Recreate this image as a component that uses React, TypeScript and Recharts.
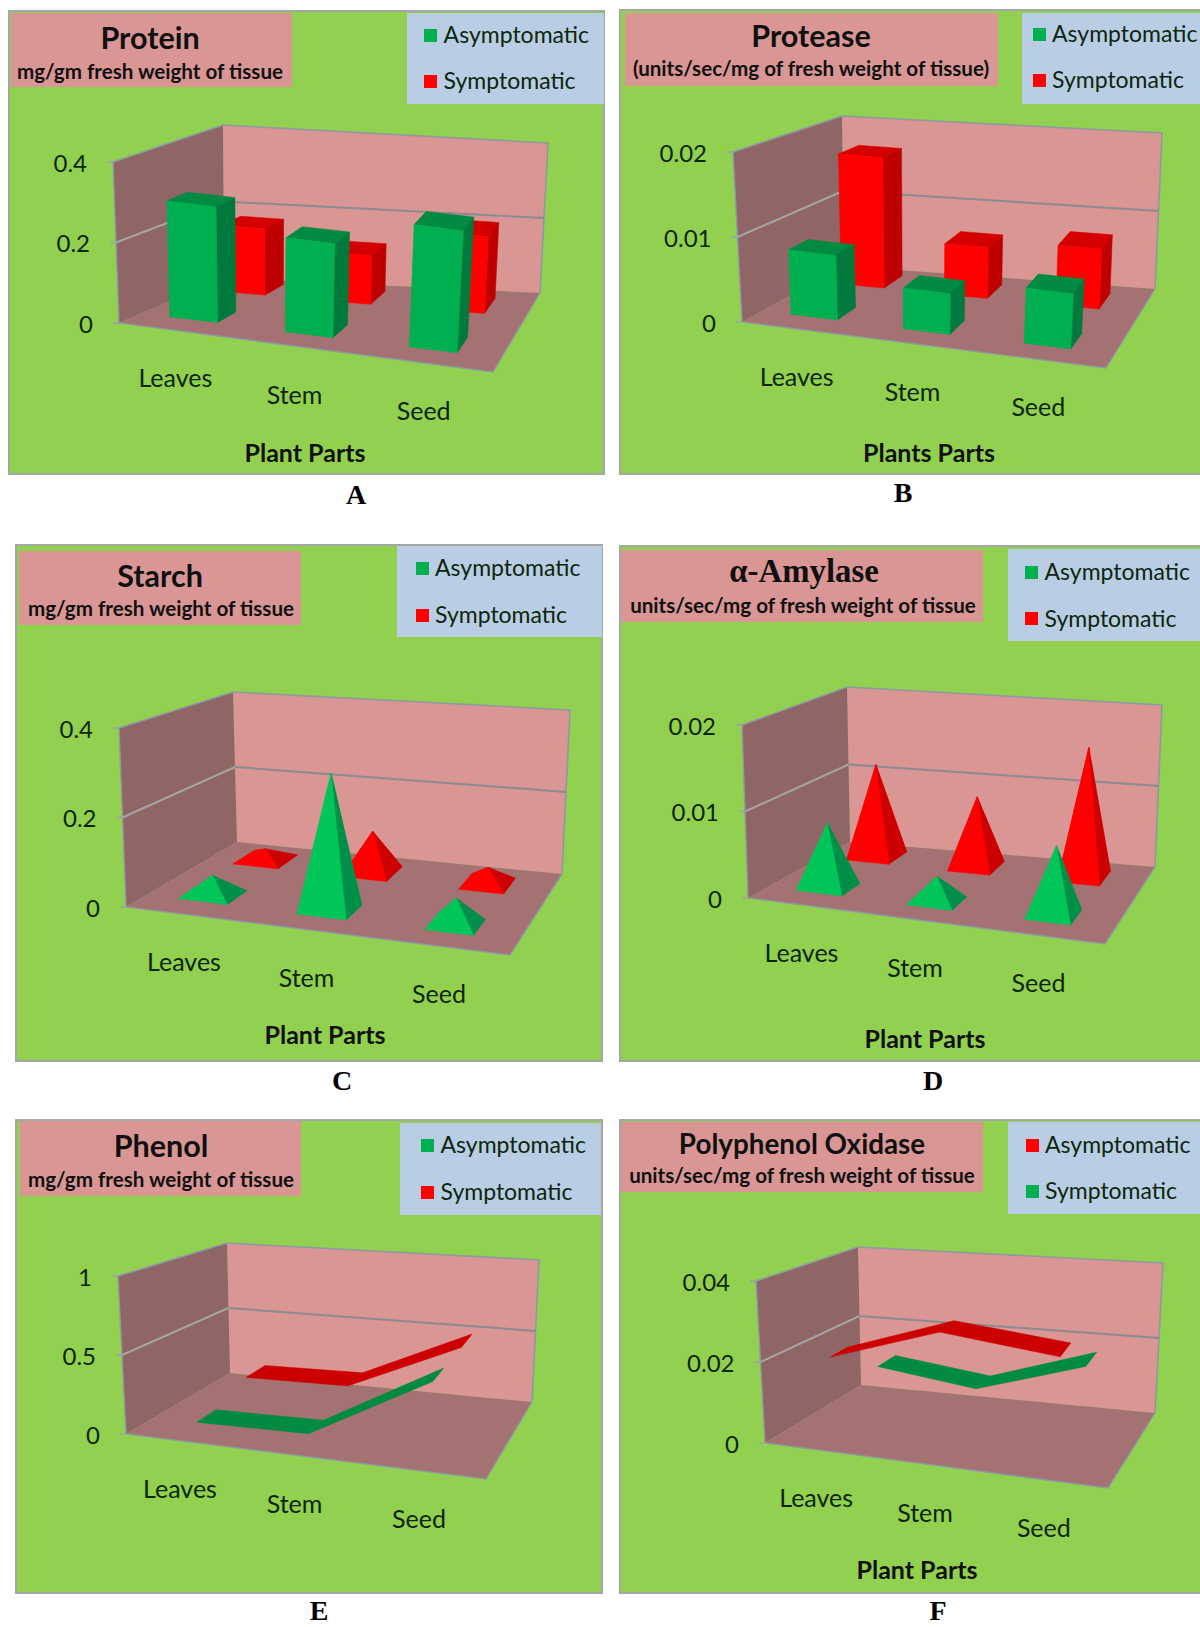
import React from 'react';
import { ComposedChart, Bar, Line, XAxis, YAxis } from 'recharts';

// Shared categories and legend names
const categories = ['Leaves', 'Stem', 'Seed'];
const asymptomaticName = 'Asymptomatic';
const symptomaticName = 'Symptomatic';

// Measured values per panel
const proteinAsymptomatic = [0.29, 0.237, 0.31];
const proteinSymptomatic = [0.17, 0.125, 0.2];
const proteaseAsymptomatic = [0.0077, 0.0049, 0.0067];
const proteaseSymptomatic = [0.0165, 0.0064, 0.0075];
const starchAsymptomatic = [0.045, 0.318, 0.062];
const starchSymptomatic = [0.027, 0.1, 0.04];
const amylaseAsymptomatic = [0.0076, 0.0029, 0.0082];
const amylaseSymptomatic = [0.0114, 0.0086, 0.0158];
const phenolAsymptomatic = [0.08, 0.1, 0.545];
const phenolSymptomatic = [0.17, 0.19, 0.535];
const oxidaseAsymptomatic = [0.022, 0.0327, 0.0307];
const oxidaseSymptomatic = [0.0124, 0.0094, 0.0184];

// Axis ticks per panel
const proteinTicks = [0, 0.2, 0.4];
const proteaseTicks = [0, 0.01, 0.02];
const starchTicks = [0, 0.2, 0.4];
const amylaseTicks = [0, 0.01, 0.02];
const phenolTicks = [0, 0.5, 1];
const oxidaseTicks = [0, 0.02, 0.04];

type P = [number, number];
type Cube = { ftl: P; ftr: P; fbl: P; fbr: P; btl: P; btr: P; bbl: P; bbr: P };

const GREEN = { face: '#00B050', top: '#008A42', side: '#007A3C', ribbon: '#008A42', coneFace: '#00C65A', coneSide: '#008F48', coneBack: '#00A550' };
const RED = { face: '#FF0000', top: '#D40000', side: '#BE0000', ribbon: '#CC0000', coneFace: '#FF0000', coneSide: '#CC0000', coneBack: '#E60000' };
const SANS = 'Lato, sans-serif';
const SERIF = '"Liberation Serif", serif';
const INK = '#0C260C';

const AXIS_W = 60;
const AXIS_H = 40;
const SLOT_FRONT: P = [0.11, 0.31];
const SLOT_BACK: P = [0.63, 0.83];

// Horizontal perspective correction per category column, and category label offsets
const columnShift = [1.5, -5.5, -4];
const ribbonShift = [1, -6, -3];
const labelShift = [-6, -11.5, -7];

const lerp = (a: P, b: P, t: number): P => [a[0] + (b[0] - a[0]) * t, a[1] + (b[1] - a[1]) * t];

// Maps normalised category / value / depth coordinates into the drawn box
const project = (c: Cube, u: number, v: number, w: number): P => {
  const fb = lerp(c.fbl, c.fbr, u);
  const ft = lerp(c.ftl, c.ftr, u);
  const bb = lerp(c.bbl, c.bbr, u);
  const bt = lerp(c.btl, c.btr, u);
  return lerp(lerp(fb, ft, v), lerp(bb, bt, v), w);
};

const pts = (list: P[]) => list.map((p) => `${p[0].toFixed(1)},${p[1].toFixed(1)}`).join(' ');
const Face = ({ at, fill }: { at: P[]; fill: string }) => (
  <polygon points={pts(at)} fill={fill} stroke={fill} strokeWidth={0.5} strokeLinejoin="round" />
);

type Series = { key: string; name: string; values: number[]; tone: typeof GREEN; depth: P };
type PanelDef = {
  box: [number, number, number, number];
  kind: 'box' | 'pyramid' | 'ribbon';
  cube: Cube;
  ticks: number[];
  series: Series[];
  title: string;
  titleX: number;
  titleY: number;
  titleSize: number;
  titleFont?: string;
  sub: string;
  subX: number;
  subY: number;
  titleBox: [number, number, number, number];
  legendBox: [number, number, number, number];
  legendSwatchX: number;
  legendTextX: number;
  legendY: [number, number];
  xTitle?: string;
  xTitleAt?: P;
  letter: string;
  letterAt: P;
};

const greenFront = (values: number[], name: string): Series => ({ key: 'a', name, values, tone: GREEN, depth: SLOT_FRONT });
const redBack = (values: number[], name: string): Series => ({ key: 's', name, values, tone: RED, depth: SLOT_BACK });

const panels: PanelDef[] = [
  {
    box: [9, 11, 597, 465], kind: 'box',
    cube: { ftl: [113, 162], ftr: [503, 214], fbl: [119, 323], fbr: [493, 372], btl: [223, 125], btr: [548, 143], bbl: [224, 278], bbr: [540, 293] },
    ticks: proteinTicks,
    series: [redBack(proteinSymptomatic, symptomaticName), greenFront(proteinAsymptomatic, asymptomaticName)],
    title: 'Protein', titleX: 150, titleY: 38, titleSize: 30.5, sub: 'mg/gm fresh weight of tissue', subX: 150, subY: 72,
    titleBox: [11, 13, 281, 74], legendBox: [407, 13, 197, 91], legendSwatchX: 424, legendTextX: 443.6, legendY: [35, 81],
    xTitle: 'Plant Parts', xTitleAt: [305, 453], letter: 'A', letterAt: [356, 496],
  },
  {
    box: [620, 10, 584, 466], kind: 'box',
    cube: { ftl: [733, 152], ftr: [1116, 203], fbl: [742, 322], fbr: [1106, 368], btl: [842, 116], btr: [1162, 133], bbl: [844, 266], bbr: [1155, 289] },
    ticks: proteaseTicks,
    series: [redBack(proteaseSymptomatic, symptomaticName), greenFront(proteaseAsymptomatic, asymptomaticName)],
    title: 'Protease', titleX: 811, titleY: 36, titleSize: 30.5, sub: '(units/sec/mg of fresh weight of tissue)', subX: 811, subY: 69,
    titleBox: [625, 13, 373, 73], legendBox: [1022, 13, 178, 91], legendSwatchX: 1033, legendTextX: 1052, legendY: [34, 80],
    xTitle: 'Plants Parts', xTitleAt: [929, 453], letter: 'B', letterAt: [903, 494],
  },
  {
    box: [16, 545, 588, 518], kind: 'pyramid',
    cube: { ftl: [119, 728], ftr: [520, 783], fbl: [126, 907], fbr: [510, 955], btl: [233, 692], btr: [570, 710], bbl: [237, 842], bbr: [562, 874] },
    ticks: starchTicks,
    series: [redBack(starchSymptomatic, symptomaticName), greenFront(starchAsymptomatic, asymptomaticName)],
    title: 'Starch', titleX: 160, titleY: 576, titleSize: 30.5, sub: 'mg/gm fresh weight of tissue', subX: 161, subY: 609,
    titleBox: [19, 551, 282, 74], legendBox: [397, 546, 205, 91], legendSwatchX: 415.6, legendTextX: 435, legendY: [568, 615],
    xTitle: 'Plant Parts', xTitleAt: [325, 1035], letter: 'C', letterAt: [342, 1082],
  },
  {
    box: [620, 546, 584, 517], kind: 'pyramid',
    cube: { ftl: [742, 725], ftr: [1115, 774], fbl: [748, 898], fbr: [1105, 944], btl: [847, 687], btr: [1162, 705], bbl: [850, 842], bbr: [1155, 867] },
    ticks: amylaseTicks,
    series: [redBack(amylaseSymptomatic, symptomaticName), greenFront(amylaseAsymptomatic, asymptomaticName)],
    title: 'α-Amylase', titleX: 804, titleY: 572, titleSize: 32.8, titleFont: SERIF, sub: 'units/sec/mg of fresh weight of tissue', subX: 803, subY: 606,
    titleBox: [621, 550, 362, 72], legendBox: [1008, 549, 192, 92], legendSwatchX: 1025, legendTextX: 1044.5, legendY: [572, 618.6],
    xTitle: 'Plant Parts', xTitleAt: [925, 1039], letter: 'D', letterAt: [933, 1082],
  },
  {
    box: [16, 1120, 588, 475], kind: 'ribbon',
    cube: { ftl: [118, 1276], ftr: [496, 1329], fbl: [126, 1434], fbr: [486, 1479], btl: [227, 1243], btr: [539, 1260], bbl: [230, 1373], bbr: [532, 1402] },
    ticks: phenolTicks,
    series: [redBack(phenolSymptomatic, symptomaticName), greenFront(phenolAsymptomatic, asymptomaticName)],
    title: 'Phenol', titleX: 161, titleY: 1146, titleSize: 30.5, sub: 'mg/gm fresh weight of tissue', subX: 161, subY: 1180,
    titleBox: [20, 1121, 281, 75], legendBox: [400, 1123, 201, 92], legendSwatchX: 421, legendTextX: 440.5, legendY: [1145, 1192],
    letter: 'E', letterAt: [319, 1612],
  },
  {
    box: [620, 1120, 584, 475], kind: 'ribbon',
    cube: { ftl: [756, 1281], ftr: [1120, 1339], fbl: [765, 1443], fbr: [1108, 1488], btl: [858, 1247], btr: [1163, 1263], bbl: [861, 1385], bbr: [1155, 1413] },
    ticks: oxidaseTicks,
    // Here the asymptomatic trace sits in the front row and is keyed red
    series: [
      { key: 's', name: symptomaticName, values: oxidaseSymptomatic, tone: GREEN, depth: SLOT_BACK },
      { key: 'a', name: asymptomaticName, values: oxidaseAsymptomatic, tone: RED, depth: SLOT_FRONT },
    ],
    title: 'Polyphenol Oxidase', titleX: 802, titleY: 1145, titleSize: 27.8, sub: 'units/sec/mg of fresh weight of tissue', subX: 802, subY: 1176,
    titleBox: [621, 1122, 362, 70], legendBox: [1008, 1122, 192, 92], legendSwatchX: 1026, legendTextX: 1045, legendY: [1145, 1191],
    xTitle: 'Plant Parts', xTitleAt: [917, 1570], letter: 'F', letterAt: [938, 1612],
  },
];

// Walls, floor and value grid behind the marks
const Room = ({ p }: { p: PanelDef }) => {
  const c = p.cube;
  const top = p.ticks[p.ticks.length - 1];
  return (
    <svg width={1200} height={1627} style={{ position: 'absolute', left: 0, top: 0 }}>
      <polygon points={pts([c.btl, c.btr, c.bbr, c.bbl])} fill="#DA9694" />
      <polygon points={pts([c.ftl, c.btl, c.bbl, c.fbl])} fill="#8F6565" />
      <polygon points={pts([c.fbl, c.bbl, c.bbr, c.fbr])} fill="#A47272" />
      <polyline points={pts([c.ftl, c.btl, c.btr, c.bbr])} fill="none" stroke="#8D9AA0" strokeWidth={1.6} />
      <polyline points={pts([c.bbr, c.fbr, c.fbl, c.ftl])} fill="none" stroke="#8D9AA0" strokeWidth={1.4} />
      {p.ticks.map((t) => {
        const v = t / top;
        const a = project(c, 0, v, 0);
        const b = project(c, 0, v, 1);
        const d = project(c, 1, v, 1);
        return (
          <g key={t} fill="none">
            <line x1={a[0] - 6} y1={a[1]} x2={a[0]} y2={a[1]} stroke="#9AA3A6" strokeWidth={1.6} />
            {t > 0 && t < top && (
              <>
                <line x1={a[0]} y1={a[1]} x2={b[0]} y2={b[1]} stroke="#A8A3A3" strokeWidth={2} />
                <line x1={b[0]} y1={b[1]} x2={d[0]} y2={d[1]} stroke="#8A8A90" strokeWidth={2} />
              </>
            )}
          </g>
        );
      })}
    </svg>
  );
};

const Chart3D = ({ p }: { p: PanelDef }) => {
  const [bx, by, W, H] = p.box;
  const plotW = W - AXIS_W;
  const plotH = H - AXIS_H;
  const rows = categories.map((category, i) => {
    const row: Record<string, number | string> = { category };
    p.series.forEach((s) => { row[s.key] = s.values[i]; });
    return row;
  });
  const uOf = (x: number) => (x - AXIS_W) / plotW;
  const vOf = (y: number) => (plotH - y) / plotH;
  // Projected point, in this chart's own pixel frame
  const at = (u: number, v: number, w: number): P => {
    const q = project(p.cube, u, v, w);
    return [q[0] - bx, q[1] - by];
  };
  const lift = p.kind === 'ribbon' ? 0 : 6;

  const barShape = (s: Series) => (props: any) => {
    const { x, y, width, index } = props;
    const u0 = uOf(x);
    const u1 = uOf(x + width);
    const v = vOf(y);
    const [w0, w1] = s.depth;
    const m = (u: number, vv: number, w: number): P => {
      const q = at(u, vv, w);
      return [q[0] + columnShift[index], q[1] - lift];
    };
    if (p.kind === 'box') {
      return (
        <g>
          <Face at={[m(u0, v, w0), m(u1, v, w0), m(u1, v, w1), m(u0, v, w1)]} fill={s.tone.top} />
          <Face at={[m(u1, 0, w0), m(u1, 0, w1), m(u1, v, w1), m(u1, v, w0)]} fill={s.tone.side} />
          <Face at={[m(u0, 0, w0), m(u1, 0, w0), m(u1, v, w0), m(u0, v, w0)]} fill={s.tone.face} />
        </g>
      );
    }
    const apex = m((u0 + u1) / 2, v, (w0 + w1) / 2);
    return (
      <g>
        <Face at={[m(u0, 0, w1), m(u1, 0, w1), apex]} fill={s.tone.coneBack} />
        <Face at={[m(u0, 0, w0), m(u0, 0, w1), apex]} fill={s.tone.coneFace} />
        <Face at={[m(u1, 0, w0), m(u1, 0, w1), apex]} fill={s.tone.coneSide} />
        <Face at={[m(u0, 0, w0), m(u1, 0, w0), apex]} fill={s.tone.coneFace} />
      </g>
    );
  };

  const ribbonDot = (s: Series) => {
    const seen: { x: number; y: number }[] = [];
    return (props: any) => {
      const { cx, cy, index } = props;
      seen[index] = { x: cx, y: cy };
      if (index !== s.values.length - 1) return <g key={index} />;
      const [w0, w1] = s.depth;
      const m = (i: number, w: number): P => {
        const q = at(uOf(seen[i].x), vOf(seen[i].y), w);
        return [q[0] + ribbonShift[i], q[1]];
      };
      return (
        <g key={index}>
          {seen.slice(1).map((_, i) => (
            <Face key={i} at={[m(i, w0), m(i + 1, w0), m(i + 1, w1), m(i, w1)]} fill={s.tone.ribbon} />
          ))}
        </g>
      );
    };
  };

  const xTick = (props: any) => {
    const q = at(uOf(props.x), 0, 0);
    const i = categories.indexOf(props.payload.value);
    return (
      <text x={q[0] + labelShift[i]} y={q[1] + 46} textAnchor="middle" dominantBaseline="central" fontFamily={SANS} fontSize={25} fill={INK}>
        {props.payload.value}
      </text>
    );
  };
  const yTick = (props: any) => {
    const q = at(0, vOf(props.y), 0);
    return (
      <text x={q[0] - 26} y={q[1]} textAnchor="end" dominantBaseline="central" fontFamily={SANS} fontSize={24} fill={INK}>
        {props.payload.value}
      </text>
    );
  };

  const barSize = (plotW / 3) * 0.39;
  return (
    <div style={{ position: 'absolute', left: bx, top: by }}>
      <ComposedChart
        width={W}
        height={H}
        data={rows}
        margin={{ top: 0, right: 0, bottom: 0, left: 0 }}
        barSize={barSize}
        barGap={-barSize}
      >
        <XAxis dataKey="category" scale="band" height={AXIS_H} interval={0} axisLine={false} tickLine={false} tick={xTick} />
        <YAxis
          width={AXIS_W}
          domain={[0, p.ticks[p.ticks.length - 1]]}
          ticks={p.ticks}
          interval={0}
          axisLine={false}
          tickLine={false}
          tick={yTick}
        />
        {p.series.map((s) =>
          p.kind === 'ribbon' ? (
            <Line
              key={s.key}
              dataKey={s.key}
              name={s.name}
              stroke="none"
              isAnimationActive={false}
              activeDot={false}
              dot={ribbonDot(s)}
            />
          ) : (
            <Bar key={s.key} dataKey={s.key} name={s.name} fill={s.tone.face} isAnimationActive={false} shape={barShape(s)} />
          ),
        )}
      </ComposedChart>
    </div>
  );
};

const Label = ({ x, y, size, font, weight, color, children }: any) => (
  <div
    style={{
      position: 'absolute', left: x, top: y - 1, transform: 'translate(-50%, -50%)', whiteSpace: 'nowrap',
      fontFamily: font || SANS, fontSize: size, fontWeight: weight || 700, color: color || '#101010', lineHeight: 1,
    }}
  >
    {children}
  </div>
);

const Rect = ({ r, color }: { r: [number, number, number, number]; color: string }) => (
  <div style={{ position: 'absolute', left: r[0], top: r[1], width: r[2], height: r[3], background: color }} />
);

const Panel = ({ p }: { p: PanelDef }) => {
  const legendOrder = [...p.series].sort((a, b) => (a.key < b.key ? -1 : 1));
  return (
    <>
      <div
        style={{
          position: 'absolute', left: p.box[0] - 1, top: p.box[1] - 1, width: p.box[2], height: p.box[3],
          background: '#92D050', border: '2px solid #A3A8A6', boxSizing: 'border-box',
        }}
      />
      <Rect r={p.titleBox} color="#D99694" />
      <Rect r={p.legendBox} color="#B9CDE5" />
      <Label x={p.titleX} y={p.titleY} size={p.titleSize} font={p.titleFont}>{p.title}</Label>
      <Label x={p.subX} y={p.subY} size={20.6}>{p.sub}</Label>
      {legendOrder.map((s, i) => (
        <React.Fragment key={s.key}>
          <div
            style={{
              position: 'absolute', left: p.legendSwatchX, top: p.legendY[i] - 6.5, width: 13, height: 13, background: s.tone.face,
            }}
          />
          <div
            style={{
              position: 'absolute', left: p.legendTextX, top: p.legendY[i] - 13, fontFamily: SANS, fontSize: 23, lineHeight: '24px',
              color: INK, whiteSpace: 'nowrap',
            }}
          >
            {s.name}
          </div>
        </React.Fragment>
      ))}
      <Room p={p} />
      <Chart3D p={p} />
      {p.xTitle && p.xTitleAt && (
        <Label x={p.xTitleAt[0]} y={p.xTitleAt[1]} size={25}>{p.xTitle}</Label>
      )}
      <Label x={p.letterAt[0]} y={p.letterAt[1]} size={28} font={SERIF} color="#000">{p.letter}</Label>
    </>
  );
};

export default function App() {
  return (
    <div style={{ position: 'absolute', left: 0, top: 0, width: 1200, height: 1627, overflow: 'hidden', background: '#fff' }}>
      {panels.map((p) => (
        <Panel key={p.letter} p={p} />
      ))}
    </div>
  );
}
